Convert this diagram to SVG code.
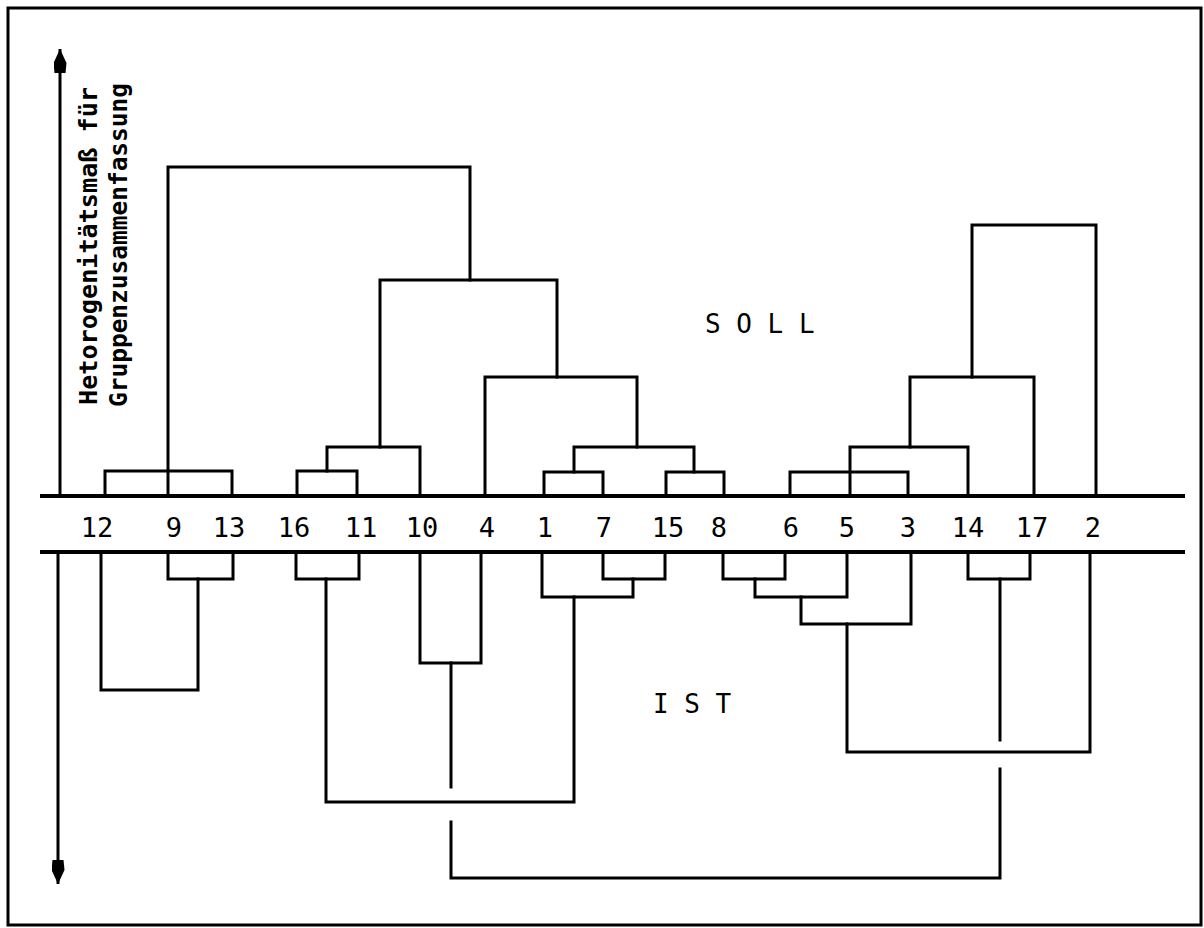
<svg xmlns="http://www.w3.org/2000/svg" width="1204" height="928" viewBox="0 0 1204 928">
<style>
.ln{fill:none;stroke:#000;stroke-width:3;stroke-linecap:square;stroke-linejoin:miter}
.base{fill:none;stroke:#000;stroke-width:4}
.ax{fill:none;stroke:#000;stroke-width:3}
.lab{font-family:"DejaVu Sans Mono","Liberation Mono",monospace;font-size:27px;fill:#000;text-anchor:middle}
.big{font-family:"DejaVu Sans Mono","Liberation Mono",monospace;font-size:26px;fill:#000}
.axt{font-family:"DejaVu Sans Mono","Liberation Mono",monospace;font-size:24px;font-weight:bold;fill:#000}
</style>
<defs>
<marker id="arr" markerUnits="userSpaceOnUse" viewBox="0 0 24 13" markerWidth="24" markerHeight="13" refX="24" refY="6.5" orient="auto">
<path d="M0,1 L10,0 L24,6.5 L10,13 L0,12 z" fill="#000"/>
</marker>
</defs>
<rect x="8" y="8" width="1193" height="917" fill="#fff" stroke="#000" stroke-width="3"/>
<g id="axis">
<path class="ax" d="M60,496 V49" marker-end="url(#arr)"/>
<path class="ax" d="M58,552 V884" marker-end="url(#arr)"/>
<text class="axt" transform="translate(97,405) rotate(-90)" textLength="318" lengthAdjust="spacingAndGlyphs">Hetorogenitätsmaß für</text>
<text class="axt" transform="translate(127,407) rotate(-90)" textLength="324" lengthAdjust="spacingAndGlyphs">Gruppenzusammenfassung</text>
</g>
<g id="baselines">
<path class="base" d="M40,496 H1185"/>
<path class="base" d="M40,552 H1185"/>
</g>
<g id="leaves">
<g id="n12"><text class="lab" x="97" y="537">12</text></g>
<g id="n9"><text class="lab" x="174" y="537">9</text></g>
<g id="n13"><text class="lab" x="229" y="537">13</text></g>
<g id="n16"><text class="lab" x="294" y="537">16</text></g>
<g id="n11"><text class="lab" x="361" y="537">11</text></g>
<g id="n10"><text class="lab" x="422" y="537">10</text></g>
<g id="n4"><text class="lab" x="487" y="537">4</text></g>
<g id="n1"><text class="lab" x="545" y="537">1</text></g>
<g id="n7"><text class="lab" x="604" y="537">7</text></g>
<g id="n15"><text class="lab" x="668" y="537">15</text></g>
<g id="n8"><text class="lab" x="719" y="537">8</text></g>
<g id="n6"><text class="lab" x="791" y="537">6</text></g>
<g id="n5"><text class="lab" x="847" y="537">5</text></g>
<g id="n3"><text class="lab" x="908" y="537">3</text></g>
<g id="n14"><text class="lab" x="968" y="537">14</text></g>
<g id="n17"><text class="lab" x="1032" y="537">17</text></g>
<g id="n2"><text class="lab" x="1093" y="537">2</text></g>
</g>
<g id="soll-label"><text class="big" x="705" y="333">S O L L</text></g>
<g id="ist-label"><text class="big" x="653" y="713">I S T</text></g>
<g id="connectors">
<g id="soll">
<path class="ln" d="M105,496 V471 H232 V496"/>
<path class="ln" d="M168,496 V167 H470 V280"/>
<path class="ln" d="M297,496 V471 H357 V496"/>
<path class="ln" d="M327,471 V447 H420 V496"/>
<path class="ln" d="M380,447 V280 H557 V377"/>
<path class="ln" d="M485,496 V377 H637 V447"/>
<path class="ln" d="M544,496 V472 H603 V496"/>
<path class="ln" d="M574,472 V447 H694 V472"/>
<path class="ln" d="M666,496 V472 H724 V496"/>
<path class="ln" d="M790,496 V472 H908 V496"/>
<path class="ln" d="M850,496 V447 H968 V496"/>
<path class="ln" d="M910,447 V377 H1034 V496"/>
<path class="ln" d="M972,377 V225 H1096 V496"/>
</g>
<g id="ist">
<path class="ln" d="M101,552 V690 H198 V579"/>
<path class="ln" d="M168,552 V579 H233 V552"/>
<path class="ln" d="M296,552 V579 H359 V552"/>
<path class="ln" d="M326,579 V802 H574 V597"/>
<path class="ln" d="M420,552 V663 H481 V552"/>
<path class="ln" d="M451,663 V787"/>
<path class="ln" d="M451,822 V878 H1000 V769"/>
<path class="ln" d="M542,552 V597 H633 V579"/>
<path class="ln" d="M603,552 V579 H665 V552"/>
<path class="ln" d="M723,552 V579 H785 V552"/>
<path class="ln" d="M755,579 V597 H847 V552"/>
<path class="ln" d="M801,597 V624 H911 V552"/>
<path class="ln" d="M847,624 V752 H1090 V552"/>
<path class="ln" d="M968,552 V579 H1030 V552"/>
<path class="ln" d="M1000,579 V740"/>
</g>
</g>
</svg>
